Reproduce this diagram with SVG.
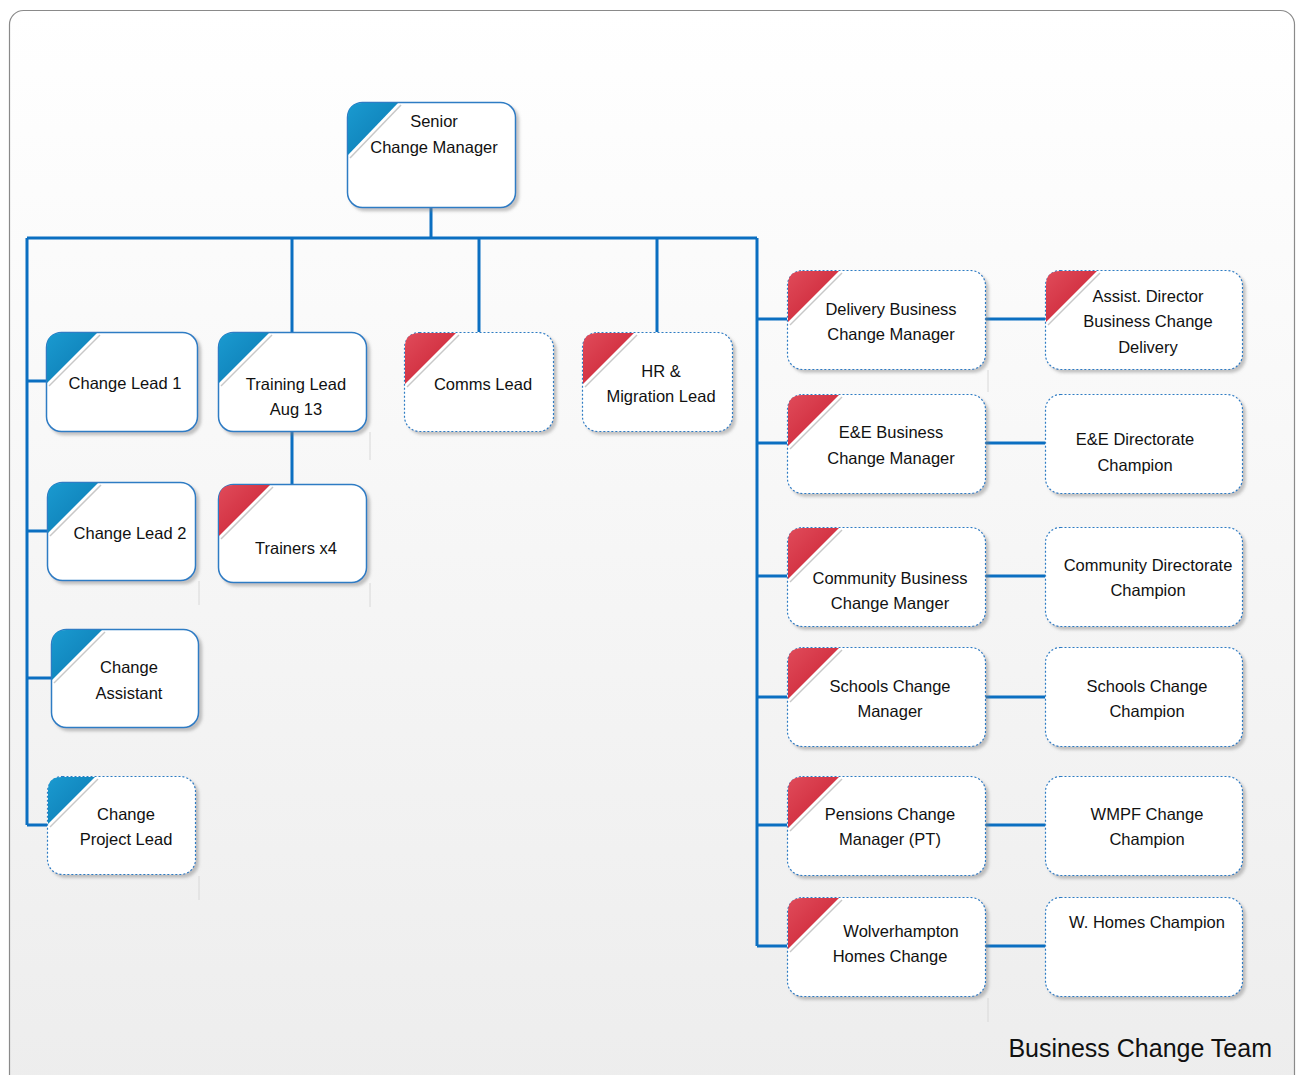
<svg xmlns="http://www.w3.org/2000/svg" width="1296" height="1075" viewBox="0 0 1296 1075">
<defs>
<linearGradient id="bg" x1="0" y1="0" x2="0" y2="1">
<stop offset="0" stop-color="#ffffff"/>
<stop offset="1" stop-color="#ededed"/>
</linearGradient>
<linearGradient id="blueG" x1="0" y1="0" x2="1" y2="1">
<stop offset="0" stop-color="#1a9ad0"/>
<stop offset="1" stop-color="#0b78b0"/>
</linearGradient>
<linearGradient id="redG" x1="0" y1="0" x2="1" y2="1">
<stop offset="0" stop-color="#e04b5a"/>
<stop offset="1" stop-color="#c81e30"/>
</linearGradient>
<filter id="sh" x="-10%" y="-10%" width="130%" height="130%">
<feDropShadow dx="3" dy="3" stdDeviation="1.5" flood-color="#7f7f7f" flood-opacity="0.45"/>
</filter>
</defs>
<style>
.box{fill:#ffffff;filter:url(#sh)}
.solid{stroke:#2f7cc4;stroke-width:1.5}
.dot{stroke:#2f7cc4;stroke-width:1.2;stroke-dasharray:2 2}
.cb{fill:url(#blueG)}
.cr{fill:url(#redG)}
.hl{stroke:#c8c8c8;stroke-width:1.5;fill:none}
.t{font-family:"Liberation Sans","Open Sans",sans-serif;font-size:16.5px;fill:#111;text-anchor:middle}
.con{stroke:#0b6fc1;stroke-width:3;fill:none}
.ghost{stroke:#d8d8d8;stroke-width:1}
</style>
<rect x="9.5" y="10.5" width="1285" height="1080" rx="14" fill="url(#bg)" stroke="#8a8a8a" stroke-width="1.2"/>
<g id="ghostlines">
<line class="ghost" x1="370" y1="432" x2="370" y2="460"/>
<line class="ghost" x1="370" y1="583" x2="370" y2="607"/>
<line class="ghost" x1="199" y1="581" x2="199" y2="605"/>
<line class="ghost" x1="199" y1="876" x2="199" y2="900"/>
<line class="ghost" x1="988" y1="370" x2="988" y2="392"/>
<line class="ghost" x1="988" y1="998" x2="988" y2="1022"/>
</g>
<g id="connectors">
<path class="con" d="M431 207V238M27 238H757M292 238V332M479 238V332M657 238V332M27 238V825M757 238V946"/>
<path class="con" d="M27 381H46M27 531H47M27 678H51M27 825H47M292 431V484"/>
<path class="con" d="M757 319H787M757 443H787M757 576H787M757 697H787M757 825H787M757 946H787"/>
<path class="con" d="M985 319H1045M985 443H1045M985 576H1045M985 697H1045M985 825H1045M985 946H1045"/>
</g>
<g id="n-senior">
<rect class="box solid" x="347.5" y="102.5" width="168" height="105" rx="15"/>
<path class="cb" d="M348 155V117Q348 103 362 103H398Z"/>
<line class="hl" x1="401" y1="105" x2="350" y2="158"/>
<text class="t" x="434" y="127">Senior</text>
<text class="t" x="434" y="153">Change Manager</text>
</g>
<g id="n-cl1">
<rect class="box solid" x="46.5" y="332.5" width="151" height="99" rx="15"/>
<path class="cb" d="M47 383V347Q47 333 61 333H97Z"/>
<line class="hl" x1="100" y1="335" x2="49" y2="386"/>
<text class="t" x="125" y="389">Change Lead 1</text>
</g>
<g id="n-training">
<rect class="box solid" x="218.5" y="332.5" width="148" height="99" rx="15"/>
<path class="cb" d="M219 383V347Q219 333 233 333H269Z"/>
<line class="hl" x1="272" y1="335" x2="221" y2="386"/>
<text class="t" x="296" y="390">Training Lead</text>
<text class="t" x="296" y="415">Aug 13</text>
</g>
<g id="n-comms">
<rect class="box dot" x="404.5" y="332.5" width="149" height="99" rx="15"/>
<path class="cr" d="M405 384V347Q405 333 419 333H456Z"/>
<line class="hl" x1="459" y1="335" x2="407" y2="387"/>
<text class="t" x="483" y="390">Comms Lead</text>
</g>
<g id="n-hr">
<rect class="box dot" x="582.5" y="332.5" width="150" height="99" rx="15"/>
<path class="cr" d="M583 384V347Q583 333 597 333H634Z"/>
<line class="hl" x1="637" y1="335" x2="585" y2="387"/>
<text class="t" x="661" y="377">HR &amp;</text>
<text class="t" x="661" y="402">Migration Lead</text>
</g>
<g id="n-cl2">
<rect class="box solid" x="47.5" y="482.5" width="148" height="98" rx="15"/>
<path class="cb" d="M48 533V497Q48 483 62 483H98Z"/>
<line class="hl" x1="101" y1="485" x2="50" y2="536"/>
<text class="t" x="130" y="539">Change Lead 2</text>
</g>
<g id="n-trainers">
<rect class="box solid" x="218.5" y="484.5" width="148" height="98" rx="15"/>
<path class="cr" d="M219 536V499Q219 485 233 485H270Z"/>
<line class="hl" x1="273" y1="487" x2="221" y2="539"/>
<text class="t" x="296" y="554">Trainers x4</text>
</g>
<g id="n-assistant">
<rect class="box solid" x="51.5" y="629.5" width="147" height="98" rx="15"/>
<path class="cb" d="M52 680V644Q52 630 66 630H102Z"/>
<line class="hl" x1="105" y1="632" x2="54" y2="683"/>
<text class="t" x="129" y="673">Change</text>
<text class="t" x="129" y="699">Assistant</text>
</g>
<g id="n-projectlead">
<rect class="box dot" x="47.5" y="776.5" width="148" height="98" rx="15"/>
<path class="cb" d="M48 824V790Q48 777 62 777H95Z"/>
<line class="hl" x1="98" y1="779" x2="50" y2="827"/>
<text class="t" x="126" y="820">Change</text>
<text class="t" x="126" y="845">Project Lead</text>
</g>
<g id="n-delivery">
<rect class="box dot" x="787.5" y="270.5" width="198" height="99" rx="15"/>
<path class="cr" d="M788 322V285Q788 271 802 271H839Z"/>
<line class="hl" x1="842" y1="273" x2="790" y2="325"/>
<text class="t" x="891" y="315">Delivery Business</text>
<text class="t" x="891" y="340">Change Manager</text>
</g>
<g id="n-assistdir">
<rect class="box dot" x="1045.5" y="270.5" width="197" height="99" rx="15"/>
<path class="cr" d="M1046 322V285Q1046 271 1060 271H1097Z"/>
<line class="hl" x1="1100" y1="273" x2="1048" y2="325"/>
<text class="t" x="1148" y="302">Assist. Director</text>
<text class="t" x="1148" y="327">Business Change</text>
<text class="t" x="1148" y="353">Delivery</text>
</g>
<g id="n-ee">
<rect class="box dot" x="787.5" y="394.5" width="198" height="99" rx="15"/>
<path class="cr" d="M788 446V409Q788 395 802 395H839Z"/>
<line class="hl" x1="842" y1="397" x2="790" y2="449"/>
<text class="t" x="891" y="438">E&amp;E Business</text>
<text class="t" x="891" y="464">Change Manager</text>
</g>
<g id="n-eechamp">
<rect class="box dot" x="1045.5" y="394.5" width="197" height="99" rx="15"/>
<text class="t" x="1135" y="445">E&amp;E Directorate</text>
<text class="t" x="1135" y="471">Champion</text>
</g>
<g id="n-community">
<rect class="box dot" x="787.5" y="527.5" width="198" height="99" rx="15"/>
<path class="cr" d="M788 579V542Q788 528 802 528H839Z"/>
<line class="hl" x1="842" y1="530" x2="790" y2="582"/>
<text class="t" x="890" y="584">Community Business</text>
<text class="t" x="890" y="609">Change Manger</text>
</g>
<g id="n-commchamp">
<rect class="box dot" x="1045.5" y="527.5" width="197" height="99" rx="15"/>
<text class="t" x="1148" y="571">Community Directorate</text>
<text class="t" x="1148" y="596">Champion</text>
</g>
<g id="n-schools">
<rect class="box dot" x="787.5" y="647.5" width="198" height="99" rx="15"/>
<path class="cr" d="M788 699V662Q788 648 802 648H839Z"/>
<line class="hl" x1="842" y1="650" x2="790" y2="702"/>
<text class="t" x="890" y="692">Schools Change</text>
<text class="t" x="890" y="717">Manager</text>
</g>
<g id="n-schoolschamp">
<rect class="box dot" x="1045.5" y="647.5" width="197" height="99" rx="15"/>
<text class="t" x="1147" y="692">Schools Change</text>
<text class="t" x="1147" y="717">Champion</text>
</g>
<g id="n-pensions">
<rect class="box dot" x="787.5" y="776.5" width="198" height="99" rx="15"/>
<path class="cr" d="M788 828V791Q788 777 802 777H839Z"/>
<line class="hl" x1="842" y1="779" x2="790" y2="831"/>
<text class="t" x="890" y="820">Pensions Change</text>
<text class="t" x="890" y="845">Manager (PT)</text>
</g>
<g id="n-wmpf">
<rect class="box dot" x="1045.5" y="776.5" width="197" height="99" rx="15"/>
<text class="t" x="1147" y="820">WMPF Change</text>
<text class="t" x="1147" y="845">Champion</text>
</g>
<g id="n-wolves">
<rect class="box dot" x="787.5" y="897.5" width="198" height="99" rx="15"/>
<path class="cr" d="M788 949V912Q788 898 802 898H839Z"/>
<line class="hl" x1="842" y1="900" x2="790" y2="952"/>
<text class="t" x="901" y="937">Wolverhampton</text>
<text class="t" x="890" y="962">Homes Change</text>
</g>
<g id="n-whomes">
<rect class="box dot" x="1045.5" y="897.5" width="197" height="99" rx="15"/>
<text class="t" x="1147" y="928">W. Homes Champion</text>
</g>
<text x="1272" y="1057" font-family="Liberation Sans, Open Sans, sans-serif" font-size="25" fill="#111" text-anchor="end">Business Change Team</text>
</svg>
